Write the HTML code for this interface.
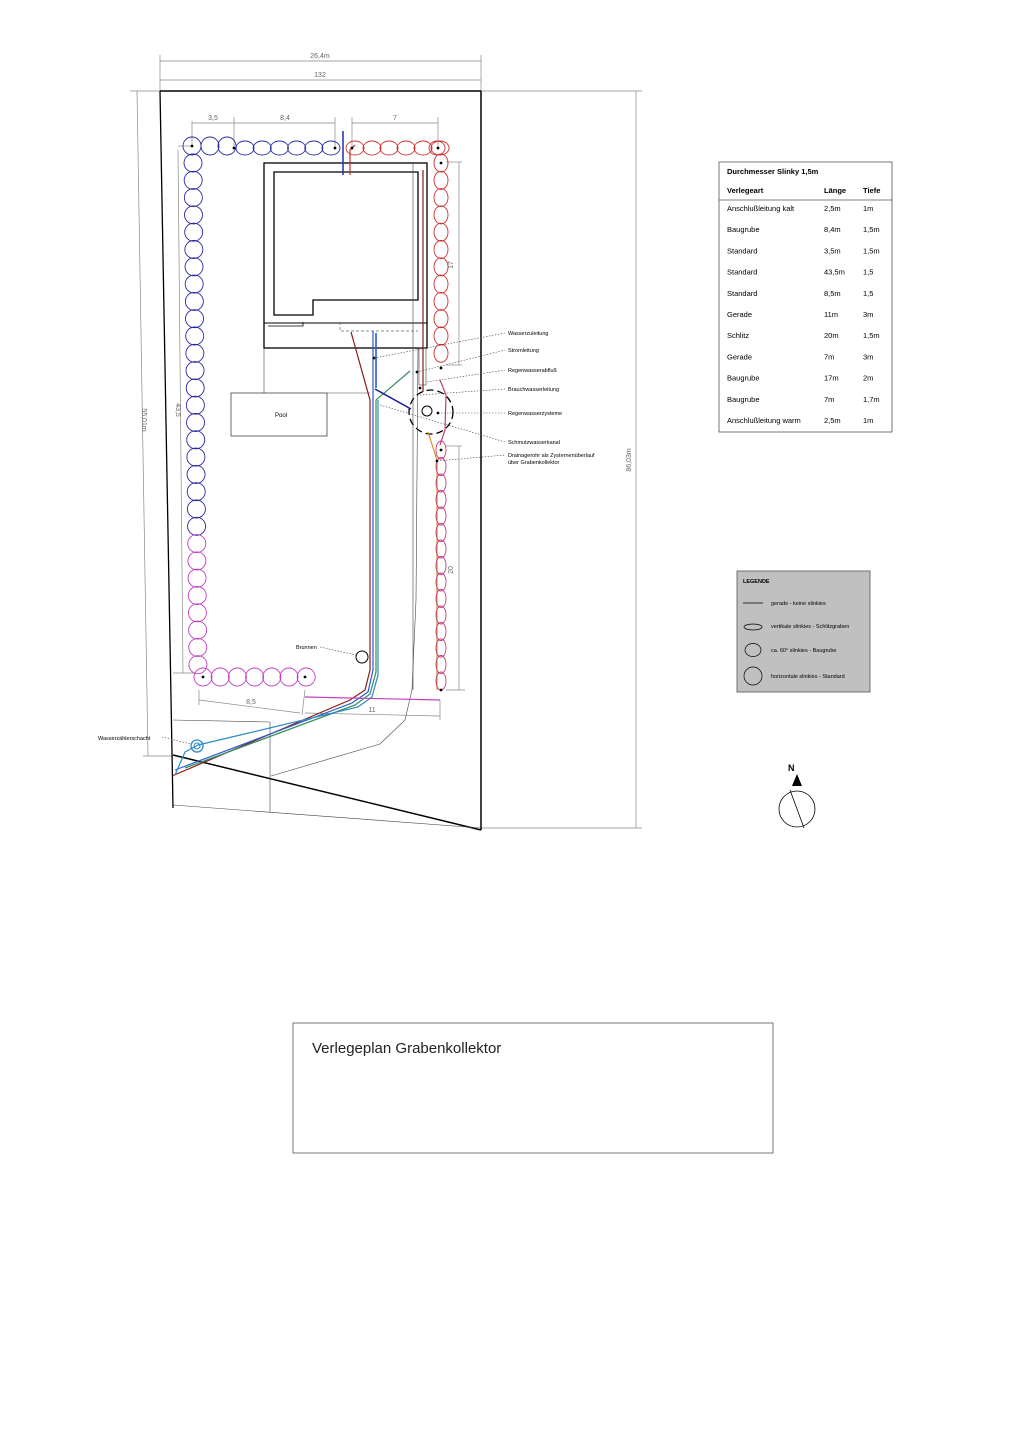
<!DOCTYPE html>
<html><head><meta charset="utf-8"><style>
html,body{margin:0;padding:0;background:#fff;}
svg{display:block;font-family:"Liberation Sans",sans-serif;}
</style></head><body>
<svg id="s" width="1024" height="1448" viewBox="0 0 1024 1448" xmlns="http://www.w3.org/2000/svg">
<rect width="1024" height="1448" fill="#fff"/>
<g stroke="#888" stroke-width="0.7" fill="none">
<line x1="160" y1="61" x2="481" y2="61"/><line x1="160" y1="80" x2="481" y2="80"/>
<line x1="160" y1="55" x2="160" y2="91"/><line x1="481" y1="55" x2="481" y2="91"/>
<line x1="130" y1="91" x2="160" y2="91"/><line x1="481" y1="91" x2="642" y2="91"/>
<line x1="636" y1="91" x2="636" y2="828"/><line x1="481" y1="828" x2="642" y2="828"/>
<line x1="137" y1="91" x2="148" y2="756"/><line x1="143" y1="756" x2="173" y2="756"/>
<line x1="178" y1="150" x2="183" y2="673"/><line x1="173" y1="673" x2="195" y2="673"/><line x1="178" y1="146" x2="192" y2="146"/>
<line x1="192" y1="121" x2="192" y2="145"/><line x1="234" y1="117" x2="234" y2="150"/><line x1="335" y1="117" x2="335" y2="150"/><line x1="352" y1="117" x2="352" y2="150"/><line x1="438" y1="117" x2="438" y2="150"/>
<line x1="192" y1="123" x2="234" y2="123"/><line x1="234" y1="123" x2="335" y2="123"/><line x1="352" y1="123" x2="438" y2="123"/>
<line x1="446" y1="162" x2="462" y2="162"/><line x1="459" y1="162" x2="459" y2="365"/><line x1="446" y1="365" x2="462" y2="365"/>
<line x1="446" y1="446" x2="462" y2="446"/><line x1="459" y1="446" x2="459" y2="690"/><line x1="446" y1="690" x2="465" y2="690"/>
<line x1="199" y1="690" x2="199" y2="705"/><line x1="199" y1="700" x2="300" y2="713"/><line x1="305" y1="690" x2="302" y2="715"/>
<line x1="305" y1="713" x2="440" y2="716"/><line x1="440" y1="700" x2="440" y2="720"/>
</g>
<g font-size="7" fill="#666" text-anchor="middle">
<text x="320" y="58">26,4m</text><text x="320" y="77">132</text>
<text x="213" y="120">3,5</text><text x="285" y="120">8,4</text><text x="395" y="120">7</text>
<text x="251" y="704">8,5</text><text x="372" y="712">11</text>
<text transform="translate(631,460) rotate(-90)">86,03m</text>
<text transform="translate(142,420) rotate(90)">55,01m</text>
<text transform="translate(176,410) rotate(90)">43,5</text>
<text transform="translate(453,265) rotate(-90)">17</text>
<text transform="translate(453,570) rotate(-90)">20</text>
</g>
<g stroke="#000" fill="none">
<line x1="160" y1="91" x2="481" y2="91" stroke-width="1.5"/>
<line x1="481" y1="91" x2="481" y2="830" stroke-width="1.5"/>
<line x1="160" y1="91" x2="173" y2="808" stroke-width="1.3"/>
<line x1="173" y1="755" x2="481" y2="830" stroke-width="1.5"/>
<line x1="173" y1="720" x2="270" y2="722" stroke-width="0.6" stroke="#444"/>
<line x1="173" y1="805" x2="481" y2="828" stroke-width="0.6" stroke="#444"/>
<line x1="270" y1="722" x2="270" y2="812" stroke-width="0.6" stroke="#444"/>
<path d="M271 776 L380 744 L405 720 L412 690 L416 600 L418 348" stroke-width="0.6" stroke="#444"/>
<rect x="264" y="163" width="163" height="185" stroke-width="1.3"/>
<path d="M274 172 H418 V300 H313 V315 H274 Z" stroke-width="1.3"/>
<rect x="264" y="323" width="163" height="25" stroke-width="1"/>
<path d="M268 326 H303 V322 M264 348" stroke-width="0.8"/>
<path d="M340 322 V331 H418" stroke="#666" stroke-dasharray="3,2" stroke-width="0.7"/>
<line x1="264" y1="348" x2="264" y2="393" stroke-width="0.6" stroke="#444"/>
<rect x="419" y="348" width="7" height="37" stroke-width="0.6" stroke="#444"/>
<line x1="413" y1="163" x2="413" y2="690" stroke-width="0.6" stroke="#444"/>
<rect x="231" y="393" width="96" height="43" stroke-width="0.8" stroke="#444"/>
<line x1="327" y1="393" x2="370" y2="393" stroke-width="0.6" stroke="#444"/>
<circle cx="431" cy="412" r="22" stroke-width="1.3" stroke-dasharray="7,4"/>
<circle cx="427" cy="411" r="5" stroke-width="1"/>
<circle cx="362" cy="657" r="6" stroke-width="1"/>
<circle cx="797" cy="809" r="18" stroke-width="0.8"/>
<line x1="790" y1="790" x2="804" y2="828" stroke-width="0.8"/>
</g>
<path d="M797 774 L792 786 L802 786 Z" fill="#000"/>
<text x="788" y="771" font-size="9" font-weight="bold">N</text>
<text x="275" y="417" font-size="6">Pool</text>
<g fill="none" stroke-width="1.2">
<path d="M351 332 L370 400 L370 670 L365 690 L350 700 L172 776" stroke="#8b1a1a"/>
<path d="M373 331 V670 L368 692 L352 703 L175 770" stroke="#2a5ad0"/>
<path d="M376 400 V672 L370 694 L355 705 L185 768" stroke="#2f8f5a"/>
<path d="M378 400 V675 L372 697 L358 707 L198 745" stroke="#2a8ac8"/>
<path d="M376 400 L410 371" stroke="#2f8f5a"/>
<path d="M375 389 L411 409" stroke="#1a1aa0" stroke-width="1.5"/>
<path d="M376 333 V388" stroke="#2a5ad0" stroke-width="1.6"/>
<path d="M343 131 V175" stroke="#2a3ab0" stroke-width="1.6"/>
<path d="M350 175 V150 L355 145" stroke="#c03030"/>
<path d="M423 170 V392" stroke="#8b1a1a"/>
<path d="M428 432 L437 460 V690" stroke="#d8902a"/>
<path d="M440 380 L446 395 L445 430 L440 445" stroke="#c04060"/>
<path d="M305 697 L440 700" stroke="#c040c0"/>
<path d="M198 745 L185 752 L175 775" stroke="#2a8ac8"/>
</g>
<circle cx="197" cy="746" r="6" fill="none" stroke="#2a8ac8" stroke-width="1.3"/>
<circle cx="197" cy="746" r="3" fill="none" stroke="#2a8ac8" stroke-width="1"/>
<g id="coils" fill="none" stroke-width="0.9"></g>
<g stroke="#444" stroke-width="0.6" stroke-dasharray="1.5,1.5" fill="none">
<path d="M374 358 L505 333"/><path d="M417 372 L505 350"/><path d="M427 382 L505 370"/>
<path d="M420 395 L505 389"/><path d="M438 413 L505 413"/><path d="M380 405 L505 442"/>
<path d="M437 461 L505 455"/><path d="M320 647 L356 655"/><path d="M162 737 L191 744"/>
</g>
<g font-size="5.5" fill="#000">
<text x="508" y="335">Wasserzuleitung</text><text x="508" y="352">Stromleitung</text>
<text x="508" y="372">Regenwasserabfluß</text><text x="508" y="391">Brauchwasserleitung</text>
<text x="508" y="415">Regenwasserzysteme</text><text x="508" y="444">Schmutzwasserkanal</text>
<text x="508" y="457">Drainagerohr als Zysternenüberlauf</text><text x="508" y="464">über Grabenkollektor</text>
<text x="296" y="649">Brunnen</text><text x="98" y="740">Wasserzählerschacht</text>
</g>
<rect x="719" y="162" width="173" height="270" fill="#fff" stroke="#555" stroke-width="0.8"/>
<line x1="719" y1="200" x2="892" y2="200" stroke="#555" stroke-width="0.8"/>
<g font-size="7.5" fill="#000">
<text x="727" y="174" font-weight="bold">Durchmesser Slinky 1,5m</text>
<text x="727" y="193" font-weight="bold">Verlegeart</text><text x="824" y="193" font-weight="bold">Länge</text><text x="863" y="193" font-weight="bold">Tiefe</text>
</g>
<g font-size="7.5" fill="#000" id="tb"></g>
<rect x="737" y="571" width="133" height="121" fill="#c0c0c0" stroke="#555" stroke-width="0.8"/>
<g font-size="5.5" fill="#000"><text x="743" y="583" font-weight="bold">LEGENDE</text>
<text x="771" y="605">gerade - keine slinkies</text><text x="771" y="628">vertikale slinkies - Schlitzgraben</text>
<text x="771" y="652">ca. 60° slinkies - Baugrube</text><text x="771" y="678">horizontale slinkies - Standard</text></g>
<g fill="none" stroke="#000" stroke-width="0.7"><line x1="743" y1="603" x2="763" y2="603"/>
<ellipse cx="753" cy="627" rx="9" ry="3"/><ellipse cx="753" cy="650" rx="8" ry="6.5"/><circle cx="753" cy="676" r="9"/></g>
<rect x="293" y="1023" width="480" height="130" fill="none" stroke="#555" stroke-width="0.8"/>
<text x="312" y="1053" font-size="15" fill="#222">Verlegeplan Grabenkollektor</text>
<script>
var g=document.getElementById('coils'),ns='http://www.w3.org/2000/svg';
function e(cx,cy,rx,ry,c){var x=document.createElementNS(ns,'ellipse');x.setAttribute('cx',cx);x.setAttribute('cy',cy);x.setAttribute('rx',rx);x.setAttribute('ry',ry);x.setAttribute('stroke',c);g.appendChild(x);}
var B='#2a2aa0',R='#d03030',M='#c040c0',P='#c04080';
e(192,146,9,9,B);e(210,146,9,9,B);e(227,146,9,9,B);
for(var i=0;i<6;i++)e(245+i*17.2,148,9,7,B);
for(var i=0;i<6;i++)e(355+i*17,148,9,7,R);
e(437,148,8,7,R);
for(var i=0;i<12;i++)e(441,163+i*17.3,7,9,R);
for(var i=0;i<15;i++)e(441,450+i*16.5,5,9,P);
for(var i=0;i<30;i++){var y=163+i*17.3;e(193+i*0.17,y,9,9,y<528?B:M);}
for(var i=0;i<7;i++)e(203+i*17.2,677,9,9,M);
var dots=[[192,146],[234,148],[335,148],[352,148],[438,148],[441,163],[441,368],[441,450],[441,690],[203,677],[305,677],[437,461],[374,358],[417,372],[420,388],[438,413]];
dots.forEach(function(d){var c=document.createElementNS(ns,'circle');c.setAttribute('cx',d[0]);c.setAttribute('cy',d[1]);c.setAttribute('r',1.4);c.setAttribute('fill','#000');g.appendChild(c);});
var rows=[["Anschlußleitung kalt","2,5m","1m"],["Baugrube","8,4m","1,5m"],["Standard","3,5m","1,5m"],["Standard","43,5m","1,5"],["Standard","8,5m","1,5"],["Gerade","11m","3m"],["Schlitz","20m","1,5m"],["Gerade","7m","3m"],["Baugrube","17m","2m"],["Baugrube","7m","1,7m"],["Anschlußleitung warm","2,5m","1m"]];
var tb=document.getElementById('tb');
rows.forEach(function(r,i){var y=211+i*21.2;[[727,r[0]],[824,r[1]],[863,r[2]]].forEach(function(c){var t=document.createElementNS(ns,'text');t.setAttribute('x',c[0]);t.setAttribute('y',y);t.textContent=c[1];tb.appendChild(t);});});
</script>
</svg>
</body></html>
